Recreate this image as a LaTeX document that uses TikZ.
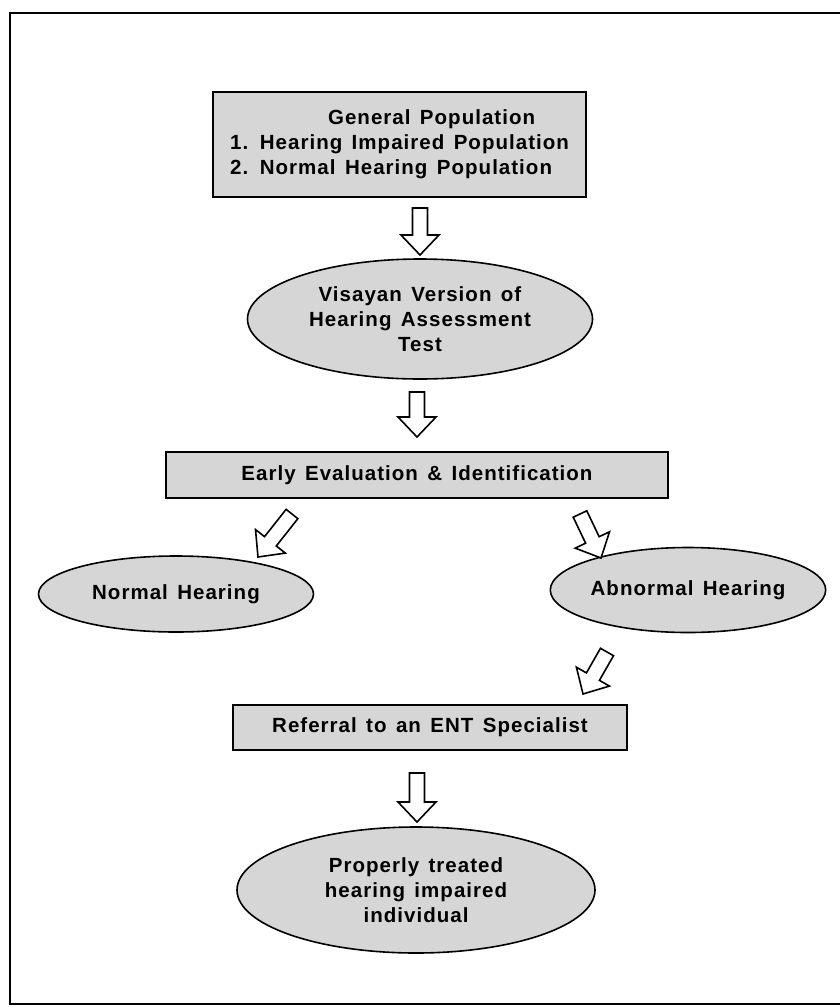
\documentclass[tikz,border=0pt]{standalone}
\usepackage{fontspec}
\setmainfont{Liberation Sans}[LetterSpace=5,WordSpace=1.4]
\usetikzlibrary{calc,shapes.geometric}

\newcommand\flowfont{\bfseries\fontsize{20.5}{25}\selectfont}

\tikzset{
  box/.style={draw, line width=1.6pt, fill=black!16, font=\flowfont, inner sep=0pt},
  oval/.style={ellipse, draw, line width=1.6pt, fill=black!16, font=\flowfont, inner sep=0pt, align=center},
  blockarrow/.style={draw, fill=white, line width=1.6pt, line join=miter, to path={
      ($(\tikztostart)!7.5pt!-90:(\tikztotarget)$) --
      ($(\tikztotarget)!20pt!(\tikztostart)!7.5pt!-90:(\tikztotarget)$) --
      ($(\tikztotarget)!20pt!(\tikztostart)!19pt!-90:(\tikztotarget)$) --
      (\tikztotarget) --
      ($(\tikztotarget)!20pt!(\tikztostart)!19pt!90:(\tikztotarget)$) --
      ($(\tikztotarget)!20pt!(\tikztostart)!7.5pt!90:(\tikztotarget)$) --
      ($(\tikztostart)!7.5pt!90:(\tikztotarget)$) -- cycle}}
}

\begin{document}
\begin{tikzpicture}[x=1pt, y=-1pt]
  \useasboundingbox (0,0) rectangle (839,1007);

  % Rahmen
  \draw[line width=1.6pt] (10,13) rectangle (850,1004);

  % Kaesten und Ellipsen
  \node[box, minimum width=373pt, minimum height=105pt, align=left] (gen) at (399.5,144.5)
    {\hspace*{98pt}General Population\\1. Hearing Impaired Population\\2. Normal Hearing Population};
  \node[oval, minimum width=345pt, minimum height=120pt] (vis) at (420,319)
    {Visayan Version of\\Hearing Assessment\\Test};
  \node[box, minimum width=502pt, minimum height=46pt] (early) at (417,475)
    {Early Evaluation \& Identification};
  \node[oval, minimum width=275pt, minimum height=76pt] (normal) at (176,594) {Normal Hearing};
  \node[oval, minimum width=270pt, minimum height=85pt] (abnormal) at (688,590) {Abnormal Hearing};
  \node[box, minimum width=394pt, minimum height=45pt] (referral) at (430,727.5)
    {Referral to an ENT Specialist};
  \node[oval, minimum width=358pt, minimum height=126pt] (treated) at (416,890)
    {Properly treated\\hearing impaired\\individual};

  % Pfeile
  \coordinate (g1) at (420,208);  \coordinate (v1) at (420,255);
  \coordinate (v2) at (417,392);  \coordinate (e1) at (417,437);
  \coordinate (e2) at (292,514);  \coordinate (n1) at (258,557);
  \coordinate (e3) at (580,514);  \coordinate (b1) at (601,558);
  \coordinate (b2) at (607,652);  \coordinate (r1) at (583,694);
  \coordinate (r2) at (417,773);  \coordinate (t1) at (417,822);

  \draw[blockarrow] (g1) to (v1);
  \draw[blockarrow] (v2) to (e1);
  \draw[blockarrow] (e2) to (n1);
  \draw[blockarrow] (e3) to (b1);
  \draw[blockarrow] (b2) to (r1);
  \draw[blockarrow] (r2) to (t1);

\end{tikzpicture}
\end{document}
